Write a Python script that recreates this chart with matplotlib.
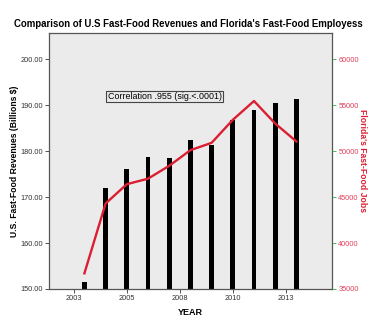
import matplotlib
matplotlib.use("Agg")
import matplotlib.pyplot as plt

plt.rcParams['font.family'] = ['Liberation Sans', 'DejaVu Sans']

years = [2003, 2004, 2005, 2006, 2007, 2008, 2009, 2010, 2011, 2012, 2013]
revenues = [151.6, 171.9, 176.1, 178.7, 178.5, 182.5, 181.4, 186.7, 189.0, 190.5, 191.4]
fl_jobs = [36700, 44300, 46400, 47000, 48400, 50100, 50900, 53400, 55450, 53000, 51050]

xticks = [2002.5, 2005, 2007.5, 2010, 2012.5]
xtick_labels = ['2003', '2005', '2008', '2010', '2013']
rev_ticks = [150, 160, 170, 180, 190, 200]
job_ticks = [35000, 40000, 45000, 50000, 55000, 60000]

red = '#dc1e32'
frame = '#555555'

fig = plt.figure(figsize=(3.79, 3.28), dpi=100)
ax = fig.add_axes([0.1293, 0.119, 0.7467, 0.7804])
ax.set_facecolor('#ebebeb')

ax.bar(years, revenues, width=0.23, bottom=0, color='black', zorder=2)
ax.set_xlim(2001.33, 2014.68)
ax.set_ylim(150, 205.7)
ax.set_yticks(rev_ticks)
ax.set_yticklabels(['%.2f' % v for v in rev_ticks])
ax.set_xticks(xticks)
ax.set_xticklabels(xtick_labels)
ax.tick_params(axis='both', labelsize=5.3, colors='#333333', length=3, width=0.6, pad=1.5)
for s in ax.spines.values():
    s.set_color(frame)
    s.set_linewidth(0.9)
ax.set_ylabel('U.S. Fast-Food Revenues (Billions $)', fontsize=6.2, fontweight='bold', labelpad=0.5)
ax.set_xlabel('YEAR', fontsize=6.5, fontweight='bold', labelpad=4)

ax2 = ax.twinx()
ax2.plot(years, fl_jobs, color=red, lw=1.7, zorder=3)
ax2.set_ylim(35000, 35000 + 55.7 * 500)
ax2.set_yticks(job_ticks)
ax2.tick_params(axis='y', labelsize=5.3, colors='#33aa55', labelcolor='#e0405a',
                length=3, width=0.6, pad=1.5)
for s in ax2.spines.values():
    s.set_visible(False)
ax2.set_ylabel("Florida's Fast-Food Jobs", fontsize=6.2, fontweight='bold', color=red,
               rotation=270, labelpad=6)

ax.text(2006.78, 191.9, 'Correlation .955 (sig.<.0001)', fontsize=6.4, ha='center', va='center',
        bbox=dict(boxstyle='square,pad=0.15', facecolor='#ebebeb', edgecolor='#444444', lw=0.8),
        zorder=4)

fig.text(0.497, 0.927, "Comparison of U.S Fast-Food Revenues and Florida's Fast-Food Employess",
         fontsize=6.9, fontweight='bold', ha='center', va='center')

fig.savefig('out.png', dpi=100)
